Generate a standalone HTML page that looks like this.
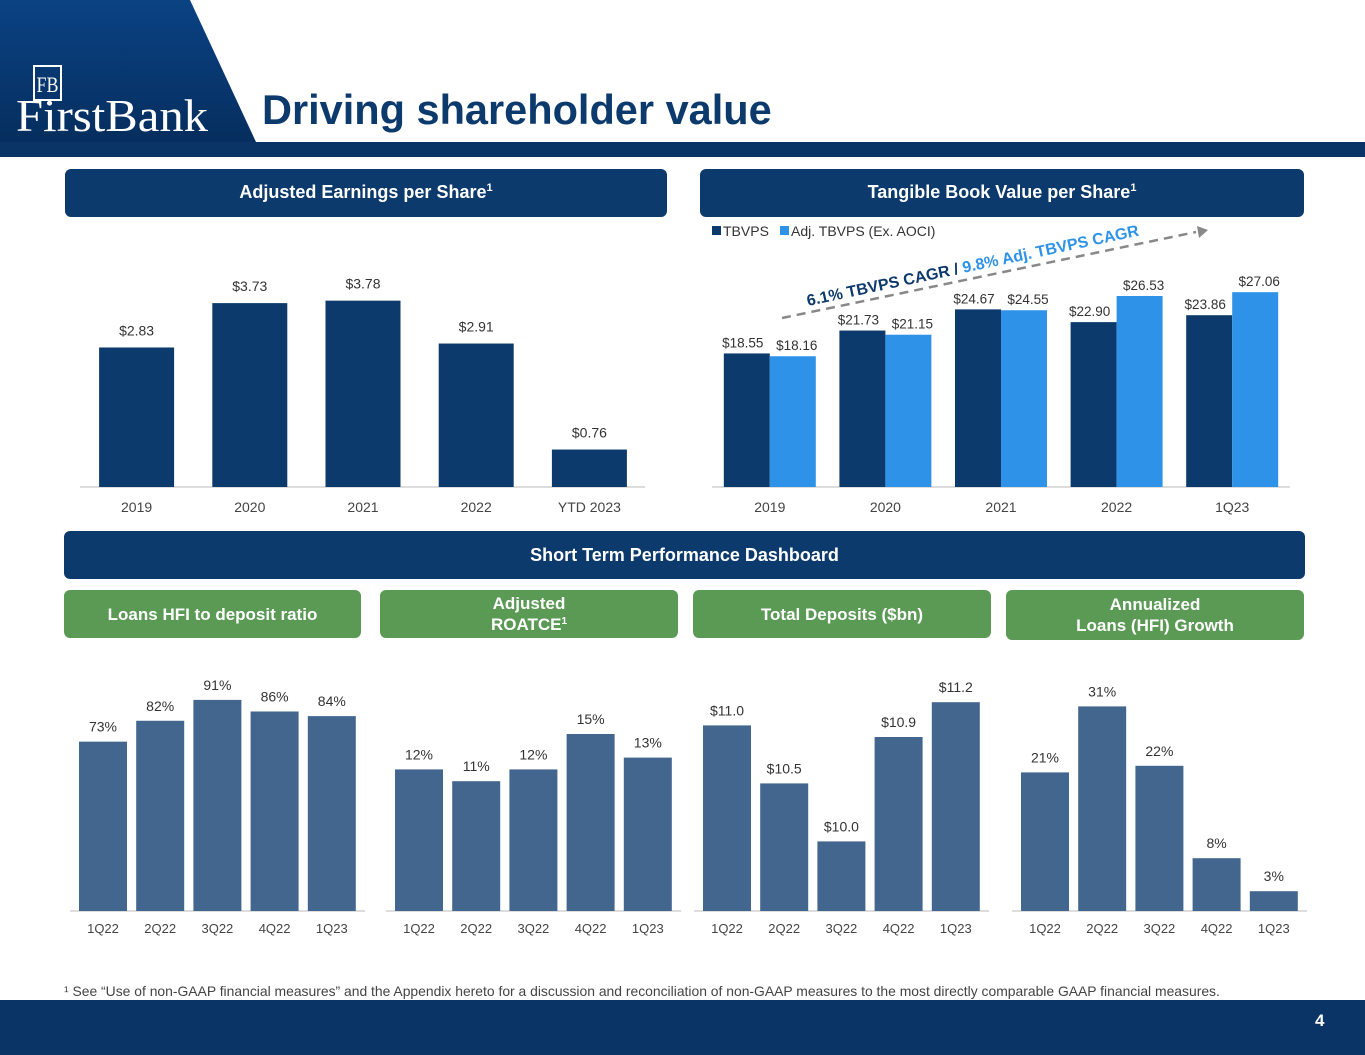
<!DOCTYPE html>
<html><head><meta charset="utf-8"><style>
body{margin:0;width:1365px;height:1055px;position:relative;background:#fff;font-family:"Liberation Sans",Arial,sans-serif;overflow:hidden}
.hdr{position:absolute;color:#fff;font-weight:bold;font-size:18px;text-align:center;border-radius:6px}
.nav{background:#0d3a6c}
.grn{background:#5a9a55;font-size:17px;line-height:21px;display:flex;align-items:center;justify-content:center}
.nav sup{font-size:11px;vertical-align:top;line-height:1;position:relative;top:14px}
.grn sup{font-size:10px;vertical-align:6px;line-height:0}
</style></head><body>
<svg width="1365" height="160" style="position:absolute;left:0;top:0">
<defs><linearGradient id="g" x1="0" y1="0" x2="0" y2="1"><stop offset="0" stop-color="#0a4283"/><stop offset="1" stop-color="#062e5e"/></linearGradient></defs>
<polygon points="0,0 190,0 256,142 0,142" fill="url(#g)"/>
<rect x="0" y="142" width="1365" height="15" fill="#0a3366"/>
<rect x="34" y="66" width="27" height="34" fill="none" stroke="#fff" stroke-width="2"/>
<text x="47.5" y="92" fill="#fff" font-family="Liberation Serif" font-size="22" text-anchor="middle" textLength="22" lengthAdjust="spacingAndGlyphs">FB</text>
<text x="16" y="131" fill="#fff" font-family="Liberation Serif" font-size="46" textLength="192" lengthAdjust="spacingAndGlyphs">FirstBank</text>
</svg>
<div style="position:absolute;left:262px;top:86px;font-size:41.5px;font-weight:bold;color:#0d3a6c">Driving shareholder value</div>
<div class="hdr nav" style="left:65px;top:169px;width:602px;height:48px;line-height:46px">Adjusted Earnings per Share<sup>1</sup></div>
<div class="hdr nav" style="left:700px;top:169px;width:604px;height:48px;line-height:46px">Tangible Book Value per Share<sup>1</sup></div>
<div class="hdr nav" style="left:64px;top:531px;width:1241px;height:48px;line-height:48px">Short Term Performance Dashboard</div>
<div class="hdr grn" style="left:64px;top:590px;width:297px;height:48px">Loans HFI to deposit ratio</div>
<div class="hdr grn" style="left:380px;top:590px;width:298px;height:48px"><div>Adjusted<br>ROATCE<sup>1</sup></div></div>
<div class="hdr grn" style="left:693px;top:590px;width:298px;height:48px">Total Deposits ($bn)</div>
<div class="hdr grn" style="left:1006px;top:590px;width:298px;height:50px">Annualized<br>Loans (HFI) Growth</div>
<svg id="ch" width="1365" height="1055" style="position:absolute;left:0;top:0"></svg>
<div style="position:absolute;left:64px;top:983px;font-size:13.9px;color:#444;white-space:nowrap">¹ See “Use of non-GAAP financial measures” and the Appendix hereto for a discussion and reconciliation of non-GAAP measures to the most directly comparable GAAP financial measures.</div>
<div style="position:absolute;left:0;top:1000px;width:1365px;height:55px;background:#0a3366"></div>
<div style="position:absolute;left:1315px;top:1011px;color:#fff;font-weight:bold;font-size:17px">4</div>
<script>
const epsCats=["2019","2020","2021","2022","YTD 2023"];
const epsVals=[2.83,3.73,3.78,2.91,0.76];
const tbCats=["2019","2020","2021","2022","1Q23"];
const tbVals=[18.55,21.73,24.67,22.90,23.86];
const adjVals=[18.16,21.15,24.55,26.53,27.06];
const qCats=["1Q22","2Q22","3Q22","4Q22","1Q23"];
const ltdVals=[73,82,91,86,84];
const roaVals=[12,11,12,15,13];
const depVals=[11.0,10.5,10.0,10.9,11.2];
const lgVals=[21,31,22,8,3];
const svg=document.getElementById('ch');
const NS='http://www.w3.org/2000/svg';
function mk(t,a,txt){const e=document.createElementNS(NS,t);for(const k in a)e.setAttribute(k,a[k]);if(txt!==undefined)e.textContent=txt;svg.appendChild(e);return e;}
function axis(x0,x1,y){const l=mk('line',{x1:x0,x2:x1,y1:y,y2:y,stroke:'#bbb','stroke-width':1});

}
// EPS
(function(){const base=487,k=49.3,x0=80,step=113.2,w=75;axis(80,645,base);
epsVals.forEach((v,i)=>{const cx=x0+step*(i+0.5),h=v*k;
const r=mk('rect',{x:cx-w/2,y:base-h,width:w,height:h,fill:'#0d3a6c'});


const t=mk('text',{x:cx,y:base-h-12,'text-anchor':'middle','font-size':14,fill:'#333'},'$'+v.toFixed(2));


const c=mk('text',{x:cx,y:base+25,'text-anchor':'middle','font-size':14,fill:'#444'},epsCats[i]);

});})();
// TBVPS
(function(){const base=487,k=7.2,x0=712,step=115.6,w=46;axis(712,1290,base);
tbCats.forEach((cat,i)=>{const cx=x0+step*(i+0.5);
[[tbVals[i],'#0d3a6c',-w],[adjVals[i],'#2e93e8',0]].forEach(([v,col,off],j)=>{const h=v*k;
const r=mk('rect',{x:cx+off,y:base-h,width:w,height:h,fill:col});


const t=mk('text',{x:cx+off+w/2+(j?4:-4),y:base-h-6,'text-anchor':'middle','font-size':13.5,fill:'#333'},'$'+v.toFixed(2));

});
const c=mk('text',{x:cx,y:base+25,'text-anchor':'middle','font-size':14,fill:'#444'},cat);

});})();
// legend + CAGR
[['#0d3a6c',712,'TBVPS'],['#2e93e8',780,'Adj. TBVPS (Ex. AOCI)']].forEach(([c,x,l])=>{const r=mk('rect',{x:x,y:226,width:9,height:9,fill:c});


const t=mk('text',{x:x+11,y:236,'font-size':14,fill:'#333'},l);

});
const dl=mk('line',{x1:782,y1:318,x2:1196,y2:232,stroke:'#888','stroke-width':2.5,'stroke-dasharray':'9,6'});


const ah=mk('polygon',{points:'1208,230 1197,226 1199,238',fill:'#888'});


const ct=mk('text',{x:0,y:0,'font-size':16,'font-weight':'bold',fill:'#0d3a6c',transform:'translate(808,306) rotate(-12)'});


ct.innerHTML='6.1% TBVPS CAGR / <tspan fill="#2e93e8">9.8% Adj. TBVPS CAGR</tspan>';
// small charts
function small(vals,x0,k,zero,fmt,name){const base=911,step=57.2,w=48;axis(x0-9,x0+286,base);
vals.forEach((v,i)=>{const x=x0+step*i,h=(v-zero)*k;
const r=mk('rect',{x:x,y:base-h,width:w,height:h,fill:'#43668f'});


const t=mk('text',{x:x+w/2,y:base-h-10,'text-anchor':'middle','font-size':14,fill:'#333'},fmt(v));


const c=mk('text',{x:x+w/2,y:base+22,'text-anchor':'middle','font-size':13,fill:'#444'},qCats[i]);

});}
small(ltdVals,79,2.32,0,v=>v+'%','ltd');
small(roaVals,395,11.8,0,v=>v+'%','roatce');
small(depVals,703,116,9.4,v=>'$'+v.toFixed(1),'deposits');
small(lgVals,1021,6.6,0,v=>v+'%','loan-growth');
</script>
</body></html>
